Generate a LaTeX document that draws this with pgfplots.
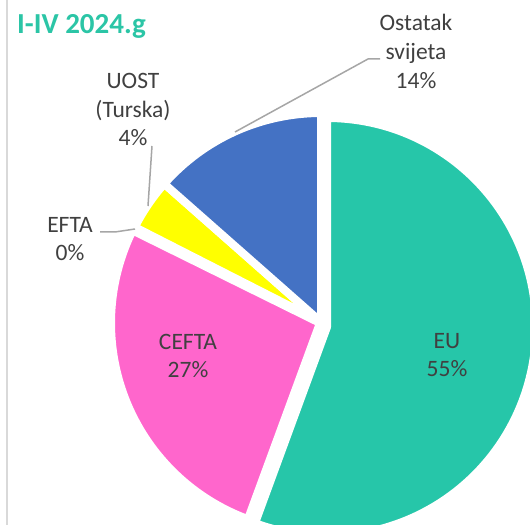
\documentclass[border=0pt]{standalone}
\usepackage{pgfplots}
\pgfplotsset{compat=1.18}
\usepackage{pgfplotstable}
\usepackage{fontspec}
\setmainfont{Carlito}
\definecolor{cEU}{HTML}{26C6A9}
\definecolor{cCEFTA}{HTML}{FF66CC}
\definecolor{cEFTA}{HTML}{ED7D31}
\definecolor{cUOST}{HTML}{FFFF00}
\definecolor{cOST}{HTML}{4472C4}
\definecolor{lbl}{HTML}{404040}
\definecolor{leader}{HTML}{A6A6A6}
\definecolor{frame}{HTML}{D9D9D9}
\definecolor{ttl}{HTML}{2BC5A6}

% shares in percent (clockwise from the top)
\pgfplotstableread{
label value
EU 55.6
CEFTA 26.7
EFTA 0.2
UOST 4.0
Ostatak 13.5
}\piedata

\pgfplotstablegetelem{0}{value}\of\piedata \let\vEU\pgfplotsretval
\pgfplotstablegetelem{1}{value}\of\piedata \let\vCE\pgfplotsretval
\pgfplotstablegetelem{2}{value}\of\piedata \let\vEF\pgfplotsretval
\pgfplotstablegetelem{3}{value}\of\piedata \let\vUO\pgfplotsretval
\pgfplotstablegetelem{4}{value}\of\piedata \let\vOS\pgfplotsretval
\pgfmathsetmacro\aEUe{90-3.6*\vEU}
\pgfmathsetmacro\aCEe{\aEUe-3.6*\vCE}
\pgfmathsetmacro\aEFe{\aCEe-3.6*\vEF}
\pgfmathsetmacro\aUOe{\aEFe-3.6*\vUO}
\pgfmathsetmacro\aOSe{\aUOe-3.6*\vOS}

\begin{document}
\begin{tikzpicture}
\path[use as bounding box] (0,0) rectangle (530bp,525bp);
\clip (0,0) rectangle (530bp,525bp);
\begin{axis}[
  at={(0,0)}, anchor=south west,
  width=530bp, height=525bp, scale only axis,
  xmin=0, xmax=530, ymin=0, ymax=525,
  axis lines=none, ticks=none, clip=false,
]
% frame line
\draw[frame, line width=2bp] (axis cs:7,-5) -- (axis cs:7,530);
% slices
\fill[cEU, draw=white, line width=8bp, line join=round]
  (axis cs:327,198) -- +(90:209bp) arc[start angle=90, end angle=\aEUe, radius=209bp] -- cycle;
\fill[cCEFTA, draw=white, line width=8bp, line join=round]
  (axis cs:320,202) -- +(\aEUe:209bp) arc[start angle=\aEUe, end angle=\aCEe, radius=209bp] -- cycle;
\fill[cEFTA, draw=white, line width=8bp, line join=round]
  (axis cs:321,203) -- +(\aCEe:209bp) arc[start angle=\aCEe, end angle=\aEFe, radius=209bp] -- cycle;
\fill[cUOST, draw=white, line width=8bp, line join=round]
  (axis cs:321,203) -- +(\aEFe:209bp) arc[start angle=\aEFe, end angle=\aUOe, radius=209bp] -- cycle;
\fill[cOST, draw=white, line width=8bp, line join=round]
  (axis cs:321,203) -- +(\aUOe:209bp) arc[start angle=\aUOe, end angle=\aOSe, radius=209bp] -- cycle;
% leader lines
\draw[leader, line width=1.5bp] (axis cs:380,466) -- (axis cs:368,466) -- (axis cs:235,393);
\draw[leader, line width=1.5bp] (axis cs:152,379) -- (axis cs:148,319);
\draw[leader, line width=1.5bp] (axis cs:100,293) -- (axis cs:115,293) -- (axis cs:135,296);
% labels
\tikzset{lab/.style={text=lbl, align=center, inner sep=0pt,
  font=\fontsize{23.5bp}{28.7bp}\selectfont}}
\node[lab] at (axis cs:447,170) {EU\\55\%};
\node[lab] at (axis cs:188,169) {CEFTA\\27\%};
\node[lab] at (axis cs:70,286) {EFTA\\0\%};
\node[lab] at (axis cs:133,415.5) {UOST\\(Turska)\\4\%};
\node[lab] at (axis cs:416,473.5) {Ostatak\\svijeta\\14\%};
% title (second line visible)
\node[anchor=base west, inner sep=0pt, text=ttl,
  font=\fontsize{29bp}{35bp}\selectfont\bfseries] at (axis cs:17,491) {I-IV 2024.g};
\end{axis}
\end{tikzpicture}
\end{document}
